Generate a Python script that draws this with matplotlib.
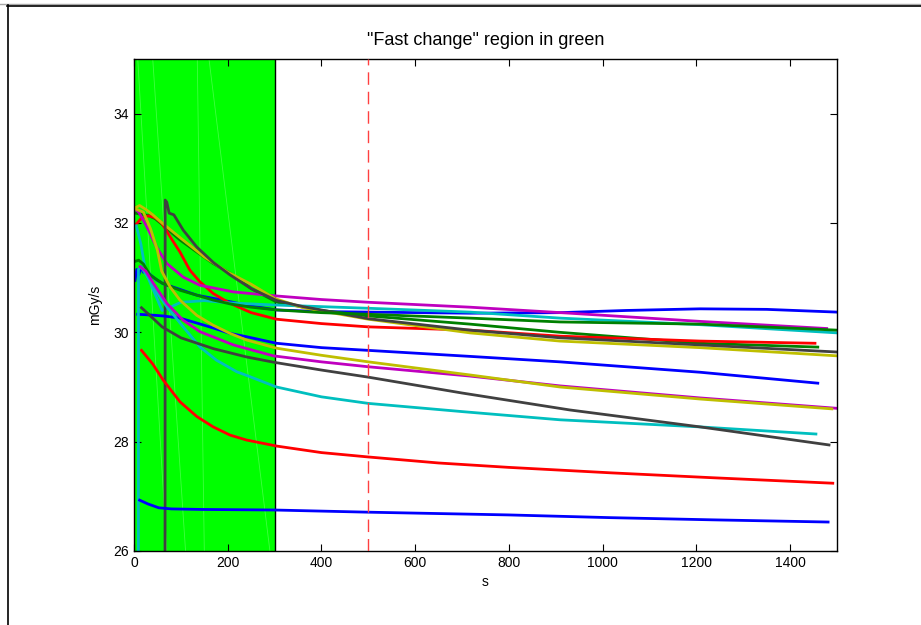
import matplotlib
matplotlib.use('Agg')
import matplotlib.pyplot as plt
from matplotlib.lines import Line2D

plt.rcParams['font.family'] = ['Liberation Sans', 'DejaVu Sans']

# MATLAB style line colours
C_BLUE = (0, 0, 1)
C_GREEN = (0, 0.5, 0)
C_RED = (1, 0, 0)
C_CYAN = (0, 0.75, 0.75)
C_MAG = (0.75, 0, 0.75)
C_YEL = (0.75, 0.75, 0)
C_GRAY = (0.25, 0.25, 0.25)

fast_end = 300
marker_x = 500

# ---- dose rate traces (time in s, rate in mGy/s) ----
blue_top_x = [2, 6, 10, 15, 20, 25, 35, 50, 62, 100, 134, 170, 205, 250, 304, 400, 500, 717, 909, 1050, 1208, 1350, 1500]
blue_top_y = [30.95, 31.15, 31.05, 31.2, 31.1, 31.15, 31.05, 30.95, 30.89, 30.78, 30.68, 30.62, 30.56, 30.48, 30.41, 30.38, 30.37, 30.35, 30.36, 30.4, 30.43, 30.42, 30.37]

blue_mid_x = [8, 30, 62, 98, 134, 169, 205, 240, 304, 400, 500, 717, 909, 1208, 1459]
blue_mid_y = [30.33, 30.32, 30.3, 30.26, 30.17, 30.08, 29.98, 29.92, 29.8, 29.72, 29.67, 29.56, 29.46, 29.27, 29.07]

blue_low_x = [12, 30, 53, 80, 145, 298, 500, 799, 1017, 1235, 1481]
blue_low_y = [26.93, 26.86, 26.79, 26.77, 26.76, 26.75, 26.71, 26.66, 26.61, 26.57, 26.53]

red_top_x = [5, 15, 30, 45, 59, 77, 98, 119, 140, 169, 205, 250, 304, 400, 500, 717, 909, 1208, 1453]
red_top_y = [31.98, 32.08, 32.13, 32.1, 32.0, 31.75, 31.47, 31.14, 30.93, 30.71, 30.53, 30.36, 30.24, 30.16, 30.1, 30.04, 29.93, 29.84, 29.8]

red_low_x = [16, 40, 62, 98, 134, 169, 205, 240, 304, 400, 500, 650, 799, 1017, 1235, 1491]
red_low_y = [29.67, 29.42, 29.13, 28.73, 28.46, 28.27, 28.12, 28.03, 27.92, 27.8, 27.72, 27.61, 27.53, 27.43, 27.34, 27.24]

green_a_x = [3, 15, 30, 45, 62, 98, 134, 169, 205, 250, 305, 400, 500, 717, 909, 1208, 1459]
green_a_y = [32.18, 32.16, 32.14, 32.08, 31.96, 31.69, 31.47, 31.26, 31.08, 30.8, 30.55, 30.4, 30.3, 30.15, 30.0, 29.8, 29.73]

green_b_x = [3, 10, 20, 34, 60, 98, 134, 169, 205, 250, 304, 400, 500, 717, 909, 1208, 1500]
green_b_y = [31.3, 31.32, 31.25, 31.05, 30.9, 30.77, 30.68, 30.59, 30.52, 30.46, 30.41, 30.36, 30.33, 30.26, 30.19, 30.15, 30.04]

cyan_up_x = [5, 15, 25, 35, 50, 60, 75, 100, 150, 200, 300, 500, 717, 909, 1208, 1500]
cyan_up_y = [31.95, 31.6, 31.1, 30.9, 30.6, 30.4, 30.45, 30.55, 30.58, 30.54, 30.5, 30.44, 30.37, 30.26, 30.14, 29.99]

cyan_low_x = [9, 9.5, 15, 34, 50, 70, 105, 141, 176, 219, 247, 304, 400, 500, 700, 909, 1208, 1455]
cyan_low_y = [20, 31.15, 31.2, 30.95, 30.72, 30.47, 30.1, 29.73, 29.49, 29.28, 29.19, 29.0, 28.82, 28.7, 28.55, 28.4, 28.27, 28.14]

mag_up_x = [3, 10, 20, 35, 48, 70, 105, 141, 212, 297, 400, 500, 717, 930, 1208, 1478]
mag_up_y = [32.25, 32.2, 32.05, 31.8, 31.56, 31.26, 31.01, 30.86, 30.74, 30.67, 30.6, 30.55, 30.46, 30.35, 30.2, 30.07]

mag_low_x = [13, 25, 41, 70, 105, 141, 212, 297, 400, 500, 717, 909, 1208, 1500]
mag_low_y = [31.2, 31.12, 30.9, 30.53, 30.22, 30.01, 29.77, 29.57, 29.46, 29.37, 29.2, 29.02, 28.8, 28.61]

yel_up_x = [3, 12, 25, 40, 60, 100, 150, 200, 250, 300, 361, 500, 717, 909, 1208, 1500]
yel_up_y = [32.28, 32.32, 32.25, 32.15, 32.0, 31.72, 31.38, 31.1, 30.88, 30.62, 30.45, 30.24, 29.99, 29.84, 29.72, 29.57]

yel_low_x = [5, 20, 35, 50, 59, 77, 98, 134, 169, 205, 240, 304, 400, 500, 717, 909, 1208, 1489]
yel_low_y = [32.25, 32.2, 31.9, 31.5, 31.12, 30.83, 30.59, 30.31, 30.13, 29.98, 29.86, 29.71, 29.58, 29.46, 29.22, 29.0, 28.78, 28.6]

gray_up_x = [66, 66.5, 70, 75, 85, 105, 134, 169, 205, 250, 305, 361, 500, 717, 909, 1208, 1500]
gray_up_y = [20, 32.42, 32.38, 32.18, 32.15, 31.87, 31.56, 31.28, 31.05, 30.8, 30.58, 30.47, 30.25, 30.04, 29.9, 29.77, 29.64]

gray_low_x = [16, 35, 60, 100, 170, 240, 300, 400, 500, 700, 930, 1208, 1483]
gray_low_y = [30.45, 30.3, 30.1, 29.9, 29.7, 29.55, 29.45, 29.31, 29.18, 28.89, 28.58, 28.27, 27.94]

traces = [
    (blue_top_x, blue_top_y, C_BLUE),
    (green_a_x, green_a_y, C_GREEN),
    (red_top_x, red_top_y, C_RED),
    (cyan_up_x, cyan_up_y, C_CYAN),
    (mag_up_x, mag_up_y, C_MAG),
    (yel_up_x, yel_up_y, C_YEL),
    (gray_up_x, gray_up_y, C_GRAY),
    (blue_mid_x, blue_mid_y, C_BLUE),
    (green_b_x, green_b_y, C_GREEN),
    (red_low_x, red_low_y, C_RED),
    (cyan_low_x, cyan_low_y, C_CYAN),
    (mag_low_x, mag_low_y, C_MAG),
    (yel_low_x, yel_low_y, C_YEL),
    (gray_low_x, gray_low_y, C_GRAY),
    (blue_low_x, blue_low_y, C_BLUE),
]

fig = plt.figure(figsize=(9.21, 6.25), dpi=100)
ax = fig.add_axes([134 / 921, 1 - 551 / 625, 703 / 921, 492 / 625])

ax.axvspan(0, fast_end, color=(0, 1, 0), lw=0, zorder=0)
ax.axvline(fast_end, color='black', lw=1, zorder=1)
# faint rendering seams inside the patch
for x0, x1 in [(8, 70), (40, 110), (135, 150), (160, 290)]:
    ax.plot([x0, x1], [35, 26], color='white', lw=0.6, alpha=0.25, zorder=1)

for xs, ys, c in traces:
    ax.plot(xs, ys, color=c, lw=2.0, zorder=2, solid_joinstyle='round')

ax.axvline(marker_x, color=(1, 0.25, 0.25), lw=1, dashes=(9, 5), zorder=3)

ax.set_xlim(0, 1500)
ax.set_ylim(26, 35)
ax.set_xticks(range(0, 1500, 200))
ax.set_yticks([26, 28, 30, 32, 34])
ax.tick_params(direction='in', top=True, right=True, length=5, labelsize=10)
for s in ax.spines.values():
    s.set_linewidth(1)
ax.set_xlabel('s', fontsize=10, labelpad=4)
ax.set_ylabel('mGy/s', fontsize=10, labelpad=8)
ax.set_title('"Fast change" region in green', fontsize=13, pad=10)

# window frame edges at top-left
fig.add_artist(Line2D([0, 1], [1 - 4 / 625, 1 - 4 / 625], color='#a8a8a8', lw=1,
                      transform=fig.transFigure))
fig.add_artist(Line2D([7.5 / 921, 7.5 / 921], [0, 1 - 5 / 625], color='black', lw=1.2,
                      transform=fig.transFigure))
fig.add_artist(Line2D([7 / 921, 1], [1 - 5.5 / 625, 1 - 5.5 / 625], color='black', lw=1.2,
                      transform=fig.transFigure))

fig.savefig('out.png', dpi=100)
